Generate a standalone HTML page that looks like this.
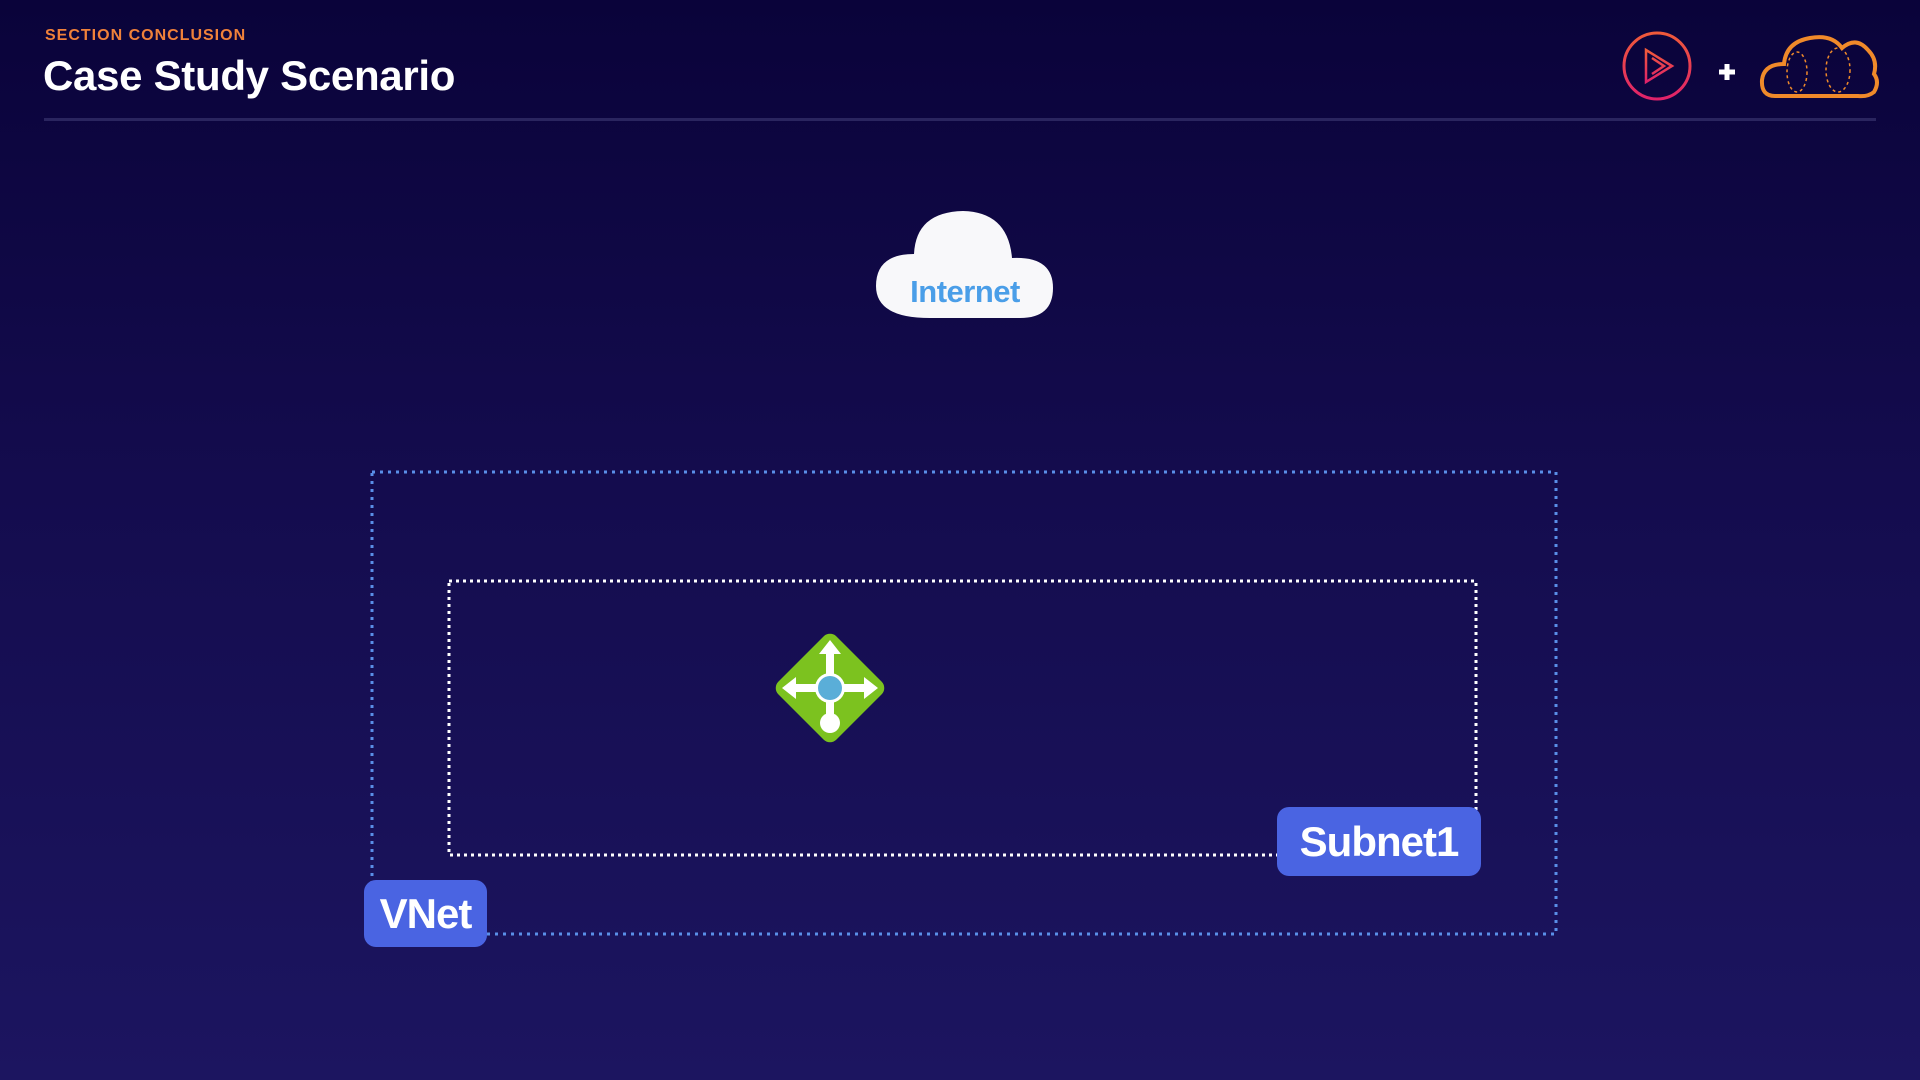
<!DOCTYPE html>
<html><head><meta charset="utf-8"><style>
body{margin:0;width:1920px;height:1080px;overflow:hidden;background:linear-gradient(180deg,#0a033a 0%,#140c4e 45%,#1c1560 100%);font-family:"Liberation Sans",sans-serif;position:relative}
.a{position:absolute}
.lbl{background:#4a64e2;color:#fff;font-weight:bold;border-radius:12px;display:flex;align-items:center;justify-content:center;letter-spacing:-1px}
</style></head><body>
<div class="a" style="left:45px;top:27px;font-size:16px;font-weight:bold;color:#f0813a;letter-spacing:1px">SECTION CONCLUSION</div>
<div class="a" style="left:43px;top:52px;font-size:42px;font-weight:bold;color:#fff;letter-spacing:-0.3px">Case Study Scenario</div>
<div class="a" style="left:44px;top:118px;width:1832px;height:3px;background:#2a255f"></div>
<svg class="a" style="left:0;top:0" width="1920" height="1080">
<defs><linearGradient id="pg" x1="0" y1="0" x2="0" y2="1"><stop offset="0" stop-color="#f05a3a"/><stop offset="1" stop-color="#e0226a"/></linearGradient></defs>
<circle cx="1657" cy="66" r="33" fill="none" stroke="url(#pg)" stroke-width="3"/>
<path d="M1646 50 L1672 66 L1646 82 Z M1652 58 L1664 66 L1652 74" fill="none" stroke="url(#pg)" stroke-width="2.5"/>
<path d="M1719 72 h16 M1727 64 v16" stroke="#fff" stroke-width="5"/>
<path d="M1775 96 Q1761 96 1762 80 Q1764 64 1784 64 Q1786 42 1810 38 Q1832 34 1842 48 Q1856 36 1868 50 Q1878 60 1874 74 Q1880 82 1874 92 Q1868 97 1858 96 Z" fill="none" stroke="#f08a2a" stroke-width="4"/>
<ellipse cx="1797" cy="72" rx="10" ry="20" fill="none" stroke="#f08a2a" stroke-width="1.5" stroke-dasharray="3 3"/>
<ellipse cx="1838" cy="70" rx="12" ry="22" fill="none" stroke="#f08a2a" stroke-width="1.5" stroke-dasharray="3 3"/>
<path d="M930 318 Q876 318 876 286 Q876 254 914 254 Q916 212 963 211 Q1008 212 1012 258 Q1053 256 1053 288 Q1053 318 1020 318 Z" fill="#f8f8fa"/>
<text x="965" y="302" font-family="Liberation Sans,sans-serif" font-size="31" font-weight="bold" fill="#4a9ee8" text-anchor="middle" letter-spacing="-0.5">Internet</text>
<rect x="372" y="472" width="1184" height="462" fill="none" stroke="#5a8fe8" stroke-width="3" stroke-dasharray="3 5"/>
<rect x="449" y="581" width="1027" height="274" fill="none" stroke="#ffffff" stroke-width="3" stroke-dasharray="3 4"/>
<g transform="translate(830,688)">
<rect x="-41" y="-41" width="82" height="82" rx="9" transform="rotate(45)" fill="#7cc21f"/>
<path d="M0 -48 L-11 -34 L-4 -34 L-4 0 L4 0 L4 -34 L11 -34 Z M-48 0 L-34 -11 L-34 -4 L34 -4 L34 -11 L48 0 L34 11 L34 4 L-34 4 L-34 11 Z M-4 0 L-4 28 L4 28 L4 0 Z" fill="#fff"/>
<circle cx="0" cy="35" r="10" fill="#fff"/>
<circle cx="0" cy="0" r="15" fill="#fff"/>
<circle cx="0" cy="0" r="12" fill="#5aaed8"/>
</g>
</svg>
<div class="a lbl" style="left:1277px;top:807px;width:204px;height:69px;font-size:42px">Subnet1</div>
<div class="a lbl" style="left:364px;top:880px;width:123px;height:67px;font-size:42px">VNet</div>
</body></html>
